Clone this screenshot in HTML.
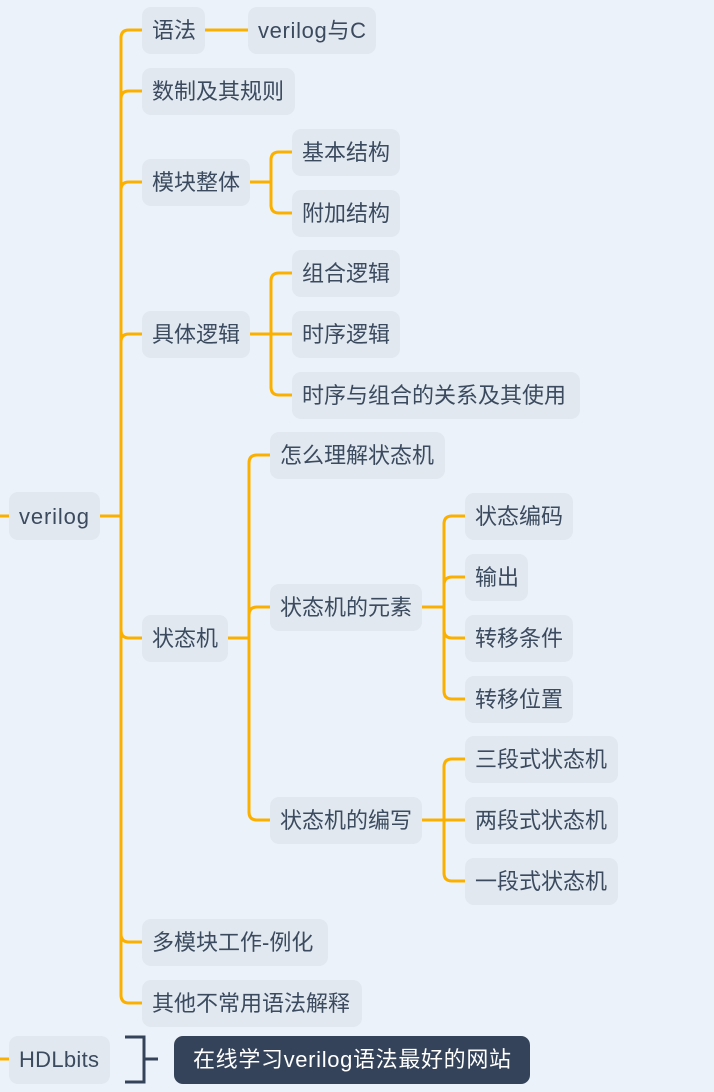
<!DOCTYPE html>
<html><head><meta charset="utf-8"><style>
html,body{margin:0;padding:0;background:#ecf2f9;}
svg{display:block}
text{font-family:"Liberation Sans","Noto Sans CJK SC",sans-serif;font-size:22px;fill:#3b4a5e}
</style></head><body>
<svg width="714" height="1092" viewBox="0 0 714 1092">
<rect width="714" height="1092" fill="#ecf2f9"/>
<g fill="none" stroke="#fbb000" stroke-width="3" stroke-linecap="round">
<path d="M0,516 L10,516 M100,516 L121,516"/>
<path d="M121,38 L121,995"/>
<path d="M121,38 Q121,30 129,30 L142,30"/>
<path d="M121,99 Q121,91 129,91 L142,91"/>
<path d="M121,190 Q121,182 129,182 L142,182"/>
<path d="M121,342 Q121,334 129,334 L142,334"/>
<path d="M121,630 Q121,638 129,638 L142,638"/>
<path d="M121,934 Q121,942 129,942 L142,942"/>
<path d="M121,995 Q121,1003 129,1003 L142,1003"/>
<path d="M205,30 L248,30"/>
<path d="M250,182 L271,182 M271,160 L271,205"/>
<path d="M271,160 Q271,152 279,152 L292,152"/>
<path d="M271,205 Q271,213 279,213 L292,213"/>
<path d="M250,334 L292,334 M271,281 L271,387"/>
<path d="M271,281 Q271,273 279,273 L292,273"/>
<path d="M271,387 Q271,395 279,395 L292,395"/>
<path d="M228,638 L249,638 M249,463 L249,812"/>
<path d="M249,463 Q249,455 257,455 L270,455"/>
<path d="M249,615 Q249,607 257,607 L270,607"/>
<path d="M249,812 Q249,820 257,820 L270,820"/>
<path d="M422,607 L444,607 M444,524 L444,691"/>
<path d="M444,524 Q444,516 452,516 L465,516"/>
<path d="M444,585 Q444,577 452,577 L465,577"/>
<path d="M444,630 Q444,638 452,638 L465,638"/>
<path d="M444,691 Q444,699 452,699 L465,699"/>
<path d="M422,820 L465,820 M444,767 L444,873"/>
<path d="M444,767 Q444,759 452,759 L465,759"/>
<path d="M444,873 Q444,881 452,881 L465,881"/>
<path d="M0,1059 L10,1059"/>
</g>
<g fill="#e1e8f0">
<rect x="9" y="492" width="91" height="48" rx="9"/>
<rect x="142" y="7" width="63" height="47" rx="9"/>
<rect x="248" y="7" width="128" height="47" rx="9"/>
<rect x="142" y="68" width="153" height="47" rx="9"/>
<rect x="142" y="159" width="108" height="47" rx="9"/>
<rect x="292" y="129" width="108" height="47" rx="9"/>
<rect x="292" y="190" width="108" height="47" rx="9"/>
<rect x="142" y="311" width="108" height="47" rx="9"/>
<rect x="292" y="250" width="108" height="47" rx="9"/>
<rect x="292" y="311" width="108" height="47" rx="9"/>
<rect x="292" y="372" width="288" height="47" rx="9"/>
<rect x="142" y="615" width="86" height="47" rx="9"/>
<rect x="270" y="432" width="175" height="47" rx="9"/>
<rect x="270" y="584" width="152" height="47" rx="9"/>
<rect x="465" y="493" width="108" height="47" rx="9"/>
<rect x="465" y="554" width="63" height="47" rx="9"/>
<rect x="465" y="615" width="108" height="47" rx="9"/>
<rect x="465" y="676" width="108" height="47" rx="9"/>
<rect x="270" y="797" width="152" height="47" rx="9"/>
<rect x="465" y="736" width="153" height="47" rx="9"/>
<rect x="465" y="797" width="153" height="47" rx="9"/>
<rect x="465" y="858" width="153" height="47" rx="9"/>
<rect x="142" y="919" width="186" height="47" rx="9"/>
<rect x="142" y="980" width="220" height="47" rx="9"/>
<rect x="9" y="1036" width="101" height="48" rx="9"/>
</g>
<rect x="174" y="1036" width="356" height="48" rx="9" fill="#344359"/>
<path d="M125,1037 L144,1037 L144,1082 L125,1082 M144,1059 L158,1059" fill="none" stroke="#344359" stroke-width="3"/>
<text x="19" y="524" textLength="70">verilog</text>
<text x="152" y="38">语法</text>
<text x="258" y="38" textLength="108">verilog与C</text>
<text x="152" y="99">数制及其规则</text>
<text x="152" y="190">模块整体</text>
<text x="302" y="160">基本结构</text>
<text x="302" y="221">附加结构</text>
<text x="152" y="342">具体逻辑</text>
<text x="302" y="281">组合逻辑</text>
<text x="302" y="342">时序逻辑</text>
<text x="302" y="403">时序与组合的关系及其使用</text>
<text x="152" y="646">状态机</text>
<text x="280" y="463">怎么理解状态机</text>
<text x="280" y="615">状态机的元素</text>
<text x="475" y="524">状态编码</text>
<text x="475" y="585">输出</text>
<text x="475" y="646">转移条件</text>
<text x="475" y="707">转移位置</text>
<text x="280" y="828">状态机的编写</text>
<text x="475" y="767">三段式状态机</text>
<text x="475" y="828">两段式状态机</text>
<text x="475" y="889">一段式状态机</text>
<text x="152" y="950">多模块工作-例化</text>
<text x="152" y="1011">其他不常用语法解释</text>
<text x="19" y="1067" textLength="80">HDLbits</text>
<text x="193" y="1067" style="fill:#ffffff" textLength="318">在线学习verilog语法最好的网站</text>
</svg>
</body></html>
